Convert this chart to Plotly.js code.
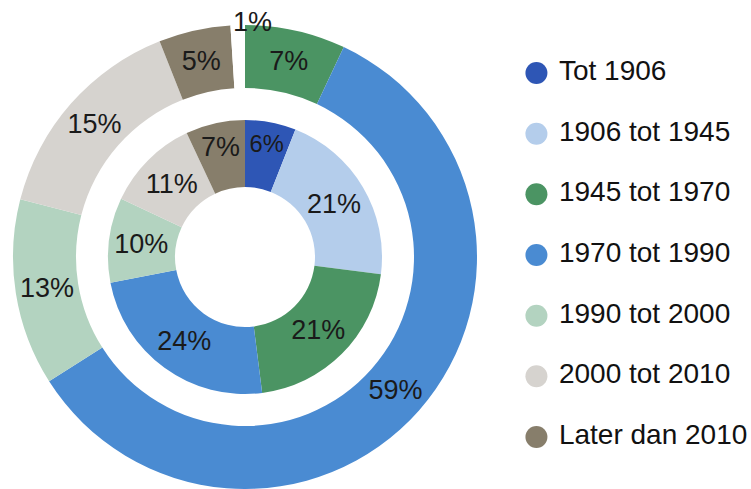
<!DOCTYPE html>
<html>
<head>
<meta charset="utf-8">
<script src="https://cdn.plot.ly/plotly-3.0.1.min.js"></script>
<style>html,body{margin:0;padding:0;background:#fff;}#chart{width:751px;height:489px;}</style>
</head>
<body>
<div id="chart"></div>
<script>
// Categories (legend order)
const categories = ["Tot 1906", "1906 tot 1945", "1945 tot 1970", "1970 tot 1990", "1990 tot 2000", "2000 tot 2010", "Later dan 2010"];
const colors = ["#2e56b5", "#b4cdeb", "#4b9463", "#4a8bd2", "#b3d3c0", "#d6d3cf", "#877e6b"];
// Inner ring values (%)
const innerValues = [6, 21, 21, 24, 10, 11, 7];
// Outer ring values (%) — plus a small unlabelled remainder
const outerValues = [0, 0, 7, 59, 13, 15, 5];
const outerRestLabel = "Overig";
const outerRestValue = 1;

// Build outer ring arrays (drop empty categories)
const oLabels = [], oValues = [], oColors = [], oPos = [];
categories.forEach((c, i) => {
  if (outerValues[i] > 0) { oLabels.push(c); oValues.push(outerValues[i]); oColors.push(colors[i]); oPos.push("inside"); }
});
oLabels.push(outerRestLabel); oValues.push(outerRestValue); oColors.push("#ffffff"); oPos.push("none");

const W = 751, H = 489;
const CX = 245, CY = 257, R_OUT = 232;
const fam = "Liberation Sans, Arial, sans-serif";
const font = {family: fam, size: 27, color: "#1a1a1a"};

function dom(cx, cy, r) {
  return {x: [(cx - r) / W, (cx + r) / W], y: [(H - cy - r) / H, (H - cy + r) / H]};
}

const outer = {
  type: "pie", labels: oLabels, values: oValues, sort: false, direction: "clockwise", rotation: 0,
  hole: 169 / 232, domain: dom(CX, CY, R_OUT),
  marker: {colors: oColors, line: {width: 0}},
  texttemplate: "%{value}%", textposition: oPos,
  insidetextorientation: "horizontal", textfont: font, insidetextfont: font,
  showlegend: false, hoverinfo: "none"
};
const inner = {
  type: "pie", labels: categories, values: innerValues, sort: false, direction: "clockwise", rotation: 0,
  hole: 70 / 137, domain: dom(CX, CY, 137),
  marker: {colors: colors, line: {width: 0}},
  texttemplate: "%{value}%", textposition: "inside",
  insidetextorientation: "horizontal", textfont: font, insidetextfont: font,
  showlegend: false, hoverinfo: "none"
};
const legendKey = {
  type: "scatter", mode: "markers+text",
  x: categories.map(() => 0), y: categories.map((c, i) => i),
  text: categories.map(c => "\u00a0" + c), textposition: "middle right",
  textfont: {family: fam, size: 28, color: "#111"},
  marker: {color: colors, size: 22, line: {width: 0}},
  showlegend: false, hoverinfo: "none", cliponaxis: false
};

const layout = {
  width: W, height: H, margin: {l: 0, r: 0, t: 0, b: 0},
  paper_bgcolor: "#fff", plot_bgcolor: "rgba(0,0,0,0)",
  showlegend: false,
  xaxis: {domain: [0.70, 1.0], range: [-0.05, 1], visible: false, fixedrange: true},
  yaxis: {domain: [0, 1], range: [6.857, -1.203], visible: false, fixedrange: true},
  hovermode: false,
  annotations: [{
    // label of the small remainder slice at the top of the outer ring
    text: outerRestValue + "%", xref: "paper", yref: "paper",
    x: (CX + 7) / W, y: (H - 22) / H, xanchor: "center", yanchor: "middle",
    showarrow: false, font: font
  }]
};
Plotly.newPlot("chart", [outer, inner, legendKey], layout, {displayModeBar: false, staticPlot: true});
</script>
</body>
</html>
